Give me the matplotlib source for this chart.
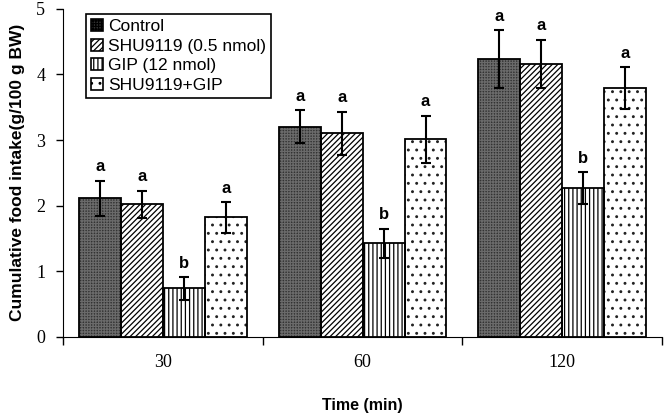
import numpy as np
import matplotlib.pyplot as plt

plt.rcParams['hatch.linewidth'] = 0.9

times = ['30', '60', '120']
groups = ['Control', 'SHU9119 (0.5 nmol)', 'GIP (12 nmol)', 'SHU9119+GIP']
means = [[2.11, 3.20, 4.23],
         [2.02, 3.10, 4.16],
         [0.74, 1.43, 2.27],
         [1.82, 3.01, 3.79]]
errs = [[0.27, 0.25, 0.44],
        [0.21, 0.33, 0.37],
        [0.17, 0.22, 0.24],
        [0.23, 0.36, 0.32]]
letters = [['a', 'a', 'a'],
           ['a', 'a', 'a'],
           ['b', 'b', 'b'],
           ['a', 'a', 'a']]

faces = ['#333333', 'white', 'white', 'white']
hatch_cols = ['#6a6a6a', 'black', 'black', '#222222']
hatches = ['++++++', '//////', '||||', '..']

fig = plt.figure(figsize=(6.66, 4.16), dpi=100)
ax = fig.add_axes([0.095, 0.19, 0.899, 0.789])

x = np.arange(len(times))
w = 0.21
for i, g in enumerate(groups):
    pos = x + (i - 1.5) * w
    # fill + hatch, then black outline on top
    ax.bar(pos, means[i], w, color=faces[i], edgecolor=hatch_cols[i], linewidth=0,
           hatch=hatches[i], zorder=2)
    ax.bar(pos, means[i], w, fill=False, edgecolor='black', linewidth=1.3, zorder=2.5)
    ax.errorbar(pos, means[i], yerr=errs[i], fmt='none', ecolor='black',
                elinewidth=1.5, capsize=3.5, capthick=1.5, zorder=3)
    for p, m, e, l in zip(pos, means[i], errs[i], letters[i]):
        ax.text(p, m + e + 0.1, l, ha='center', va='bottom', fontsize=12,
                fontweight='bold', family='Liberation Sans')
    # legend proxy
    ax.bar([0], [0], 0, color=faces[i], edgecolor='black', linewidth=1.2,
           hatch=hatches[i], label=g)

ax.set_xlim(-0.5, 2.5)
ax.set_ylim(0, 5)
ax.set_yticks([0, 1, 2, 3, 4, 5])
ax.set_xticks(x)
ax.set_xticklabels(times)
ax.set_xticks([-0.5, 0.5, 1.5, 2.5], minor=True)
ax.tick_params(axis='x', which='major', length=0, pad=12)
ax.tick_params(axis='x', which='minor', length=6, width=1)
ax.tick_params(axis='y', length=5, width=1, direction='out', pad=8)
for lab in ax.get_xticklabels() + ax.get_yticklabels():
    lab.set_family('Liberation Serif')
    lab.set_fontsize(13)
ax.spines['top'].set_visible(False)
ax.spines['right'].set_visible(False)
ax.set_xlabel('Time (min)', fontsize=11.5, fontweight='bold', family='Liberation Sans', labelpad=20)
ax.set_ylabel('Cumulative food intake(g/100 g BW)', fontsize=12.5, fontweight='bold',
              family='Liberation Sans', labelpad=8)

leg = ax.legend(loc='upper left', bbox_to_anchor=(0.023, 1.01), fancybox=False,
                edgecolor='black', framealpha=1, prop={'family': 'Liberation Sans', 'size': 12.5},
                handlelength=0.7, handleheight=0.7, handletextpad=0.3,
                labelspacing=0.25, borderpad=0.3)
leg.get_frame().set_linewidth(1.2)

plt.savefig('out.png', dpi=100)
